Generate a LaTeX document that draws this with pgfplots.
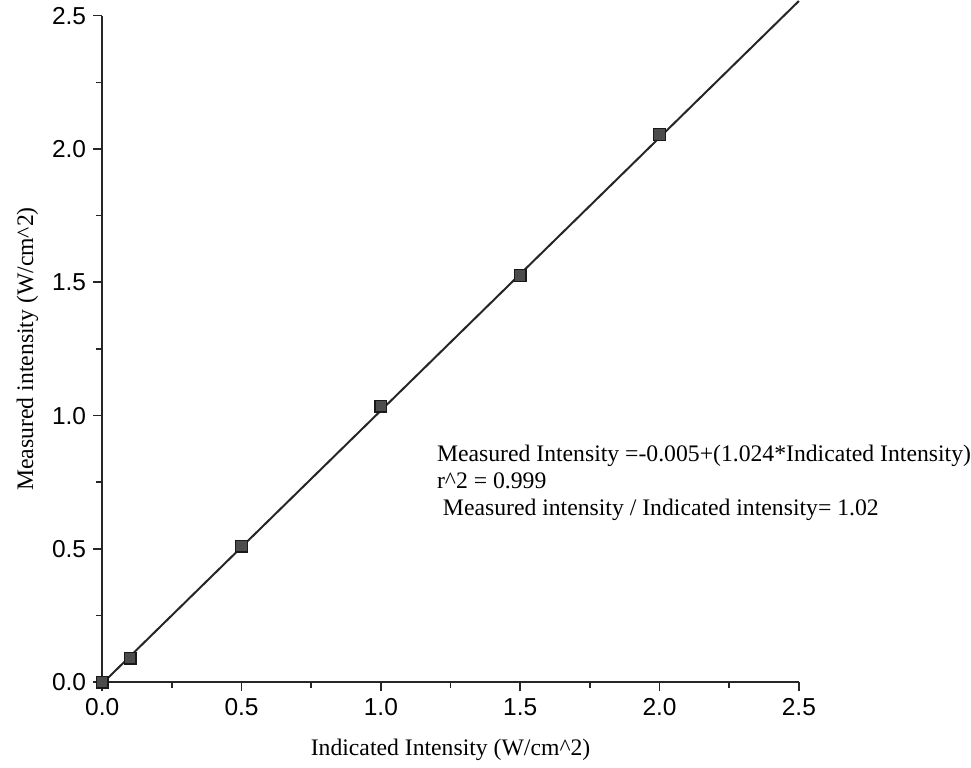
\documentclass[border=0pt]{standalone}
\usepackage{fontspec}
\setmainfont{Liberation Serif}
\newfontfamily\ticksf{Liberation Sans}
\usepackage{pgfplots}
\pgfplotsset{compat=1.18}

\begin{document}
\begin{tikzpicture}
\begin{axis}[
    scale only axis,
    width=347pt, height=332pt,
    xmin=0, xmax=2.5, ymin=0, ymax=2.5,
    axis x line*=bottom, axis y line*=left,
    axis line style={line width=0.8pt, black!85},
    xtick={0,0.5,...,2.5}, ytick={0,0.5,...,2.5},
    minor tick num=1,
    tick align=outside,
    major tick length=4.5pt, minor tick length=3pt,
    tick style={line width=0.8pt, black!85},
    /pgf/number format/.cd, fixed, fixed zerofill, precision=1, assume math mode=true,
    /pgfplots/.cd,
    ticklabel style={font=\ticksf\fontsize{12.2}{14}\selectfont},
    xlabel={Indicated Intensity (W/cm\^{}2)},
    ylabel={Measured intensity (W/cm\^{}2)},
    label style={font=\fontsize{11.8}{13}\selectfont},
    xlabel style={yshift=-5pt},
    ylabel style={yshift=0pt},
    clip=false,
]
% fitted line
\addplot[black!85, line width=1pt] coordinates {(0,-0.005) (2.5,2.555)};
% measured points
\addplot[only marks, mark=square*, mark size=2.9pt,
         mark options={fill=black!70, draw=black!90, line width=0.6pt}]
  coordinates {(0,0) (0.1,0.09) (0.5,0.51) (1.0,1.035) (1.5,1.525) (2.0,2.055)};
\node[anchor=north west, align=left, inner sep=0pt,
      font=\fontsize{11.8}{13.5}\selectfont]
  at (axis cs:1.2,0.89)
  {Measured Intensity =-0.005+(1.024*Indicated Intensity)\\
   r\^{}2 = 0.999\\
   \ Measured intensity / Indicated intensity= 1.02};
\end{axis}
% a little white margin on the left, as in the reference
\path (current bounding box.west) ++(-5pt,0) coordinate (lm);
\end{tikzpicture}
\end{document}
